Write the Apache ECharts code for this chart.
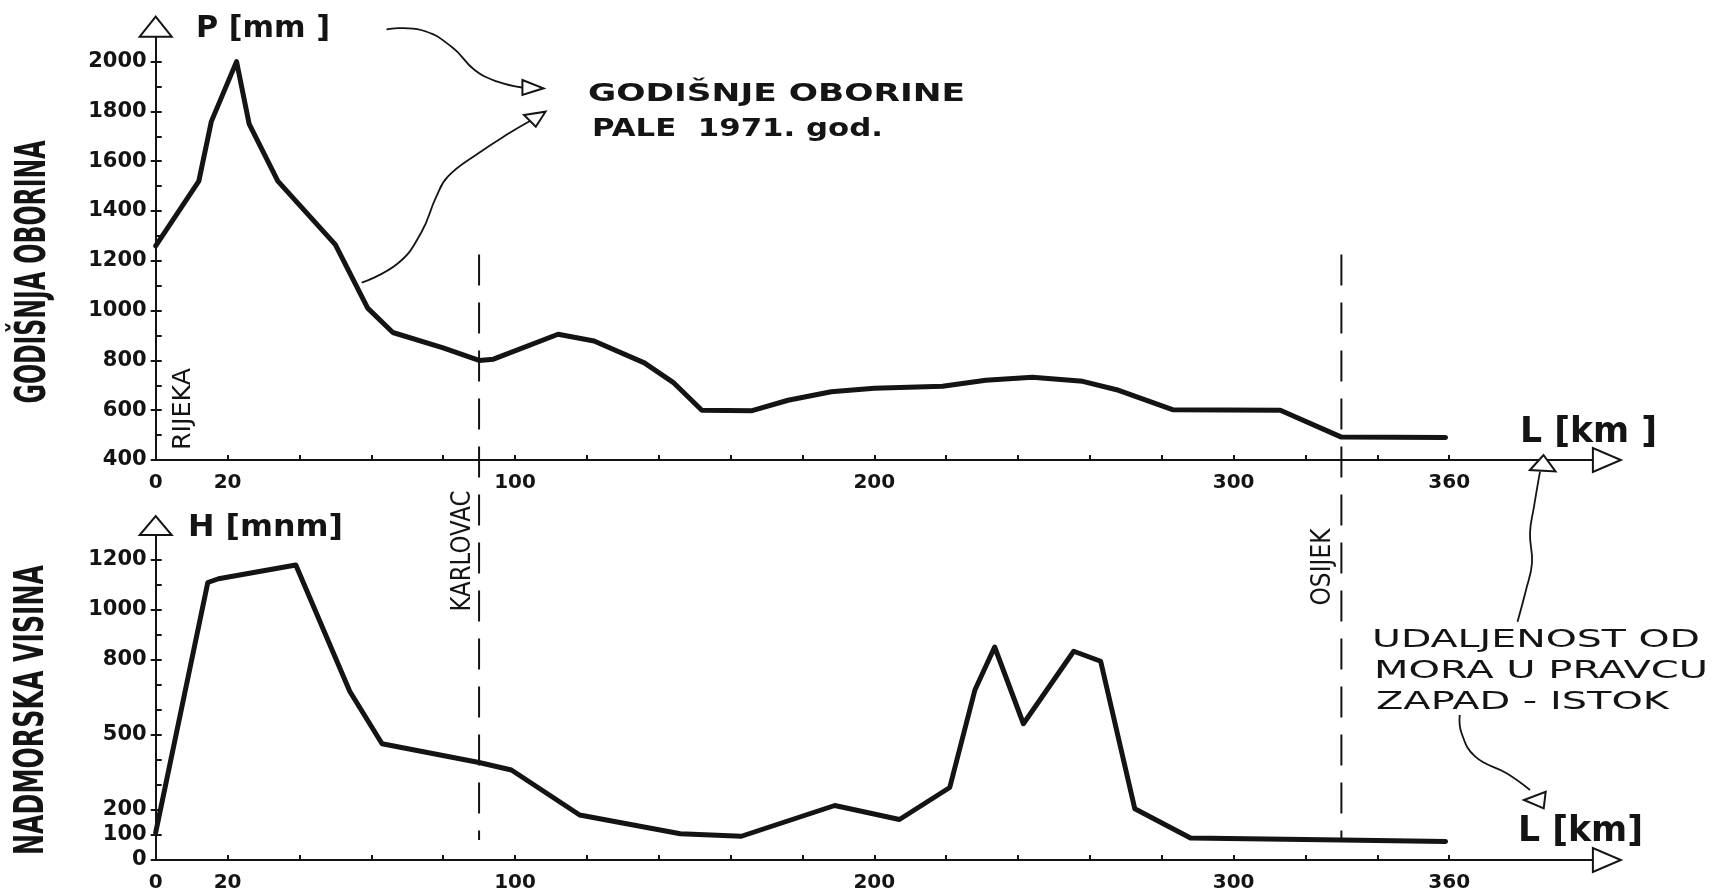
<!DOCTYPE html>
<html>
<head>
<meta charset="utf-8">
<title>Godišnje oborine i nadmorska visina</title>
<script src="https://cdn.jsdelivr.net/npm/echarts@6/dist/echarts.min.js"></script>
<style>
  html, body { margin: 0; padding: 0; background: #ffffff; }
  #chart { width: 1713px; height: 892px; }
</style>
</head>
<body>
<div id="chart"></div>
<script>
// Annual precipitation in 1971 along the west-east line from the sea
const precipKm = [0, 12, 15.5, 22.5, 26, 34, 50, 59, 66, 80, 90, 94, 112, 122, 136, 144, 152, 166, 176, 188, 200, 219, 231, 244, 258, 268, 283, 313, 330, 359];
const precipMm = [1260, 1520, 1760, 2000, 1750, 1520, 1265, 1010, 912, 850, 800, 805, 905, 878, 790, 712, 600, 598, 640, 674, 688, 696, 720, 732, 716, 680, 602, 600, 492, 490];

// Terrain profile (elevation above sea level) along the same line
const reliefKm = [0, 14.5, 17.5, 39, 54, 63, 90, 99, 118, 146, 163, 189, 207, 221, 228, 233.5, 241.5, 255.5, 263, 272.5, 288, 330, 359];
const reliefM = [110, 1110, 1125, 1180, 675, 465, 390, 360, 180, 105, 95, 218, 162, 290, 680, 852, 545, 835, 795, 205, 88, 80, 74];

// Axis ticks and labels
const kmTicks = [0, 20, 40, 60, 80, 100, 120, 140, 160, 180, 200, 220, 240, 260, 280, 300, 320, 340, 360];
const kmLabels = [0, 20, 100, 200, 300, 360];
const precipTicks = [400, 500, 600, 700, 800, 900, 1000, 1100, 1200, 1300, 1400, 1500, 1600, 1700, 1800, 1900, 2000];
const precipLabels = [400, 600, 800, 1000, 1200, 1400, 1600, 1800, 2000];
const reliefTicks = [0, 100, 200, 300, 400, 500, 600, 700, 800, 900, 1000, 1100, 1200];
const reliefLabels = [0, 100, 200, 500, 800, 1000, 1200];

// Towns marked by vertical dashed lines (km from the sea)
const townNames = ['KARLOVAC', 'OSIJEK'];
const townKm = [90, 330];

const INK = '#141414';
const FONT = '"DejaVu Sans", "Liberation Sans", sans-serif';

const chart = echarts.init(document.getElementById('chart'), null, { renderer: 'canvas' });

function plain(v) { return String(v); }

function kmAxis(gridIndex) {
  return {
    type: 'value', gridIndex: gridIndex, min: 0, max: 400,
    axisLine: { show: true, onZero: false, lineStyle: { color: INK, width: 2 } },
    axisTick: { show: true, inside: true, length: 5, customValues: kmTicks, lineStyle: { color: INK, width: 2 } },
    axisLabel: { show: true, customValues: kmLabels, formatter: plain, color: INK, fontFamily: FONT, fontWeight: 'bold', fontSize: 20, margin: 13 },
    splitLine: { show: false }
  };
}

function valueAxis(gridIndex, min, max, ticks, labels) {
  return {
    type: 'value', gridIndex: gridIndex, min: min, max: max, position: 'left',
    axisLine: { show: true, onZero: false, lineStyle: { color: INK, width: 2 } },
    axisTick: { show: true, inside: true, length: 6, customValues: ticks, lineStyle: { color: INK, width: 2 } },
    axisLabel: { show: true, customValues: labels, formatter: plain, color: INK, fontFamily: FONT, fontWeight: 'bold', fontSize: 21, margin: 9 },
    splitLine: { show: false }
  };
}

// short outer marks next to the labelled values
function labelMarkAxis(gridIndex, min, max, labels) {
  return {
    type: 'value', gridIndex: gridIndex, min: min, max: max, position: 'left',
    axisLine: { show: false, onZero: false },
    axisTick: { show: true, inside: false, length: 5, customValues: labels, lineStyle: { color: INK, width: 2 } },
    axisLabel: { show: false },
    splitLine: { show: false }
  };
}

function pairs(xs, ys) { return xs.map(function (x, i) { return [x, ys[i]]; }); }

chart.setOption({
  animation: false,
  backgroundColor: '#ffffff',
  grid: [
    { left: 155.7, top: 36.7, width: 1437.2, height: 423.3, outerBoundsMode: 'none' },
    { left: 155.7, top: 535, width: 1437.2, height: 325, outerBoundsMode: 'none' }
  ],
  xAxis: [kmAxis(0), kmAxis(1)],
  yAxis: [
    valueAxis(0, 400, 2100, precipTicks, precipLabels),
    valueAxis(1, 0, 1300, reliefTicks, reliefLabels),
    labelMarkAxis(0, 400, 2100, precipLabels),
    labelMarkAxis(1, 0, 1300, reliefLabels)
  ],
  series: [
    {
      name: 'P', type: 'line', xAxisIndex: 0, yAxisIndex: 0, data: pairs(precipKm, precipMm),
      symbol: 'none', silent: true, z: 5,
      lineStyle: { color: INK, width: 5, join: 'round', cap: 'round' }
    },
    {
      name: 'H', type: 'line', xAxisIndex: 1, yAxisIndex: 1, data: pairs(reliefKm, reliefM),
      symbol: 'none', silent: true, z: 5,
      lineStyle: { color: INK, width: 5, join: 'round', cap: 'round' }
    }
  ]
});

// ---- decorations: hollow axis arrows, town lines, lettering, pointer arrows ----
const measureCtx = document.createElement('canvas').getContext('2d');
function fitScale(text, size, weight, target) {
  measureCtx.font = weight + ' ' + size + 'px ' + FONT;
  return target / measureCtx.measureText(text).width;
}

function label(text, x, y, size, target, opts) {
  opts = opts || {};
  const weight = opts.weight || 'normal';
  return {
    type: 'text', x: x, y: y, z: 20, silent: true,
    rotation: opts.rotation || 0,
    scaleX: fitScale(text, size, weight, target), scaleY: 1,
    style: {
      text: text, x: 0, y: 0, fill: INK, fontFamily: FONT, fontSize: size, fontWeight: weight,
      align: opts.align || 'left', verticalAlign: 'middle'
    }
  };
}

function hollowTriangle(points) {
  return {
    type: 'polygon', z: 20, silent: true,
    shape: { points: points },
    style: { fill: '#ffffff', stroke: INK, lineWidth: 2, lineJoin: 'miter' }
  };
}

function curve(points) {
  return {
    type: 'polyline', z: 20, silent: true,
    shape: { points: points, smooth: 0.45 },
    style: { fill: null, stroke: INK, lineWidth: 1.8 }
  };
}

const pTop = chart.convertToPixel({ xAxisIndex: 0, yAxisIndex: 0 }, [0, 2100]);
const pTopEnd = chart.convertToPixel({ xAxisIndex: 0, yAxisIndex: 0 }, [400, 400]);
const hTop = chart.convertToPixel({ xAxisIndex: 1, yAxisIndex: 1 }, [0, 1300]);
const hEnd = chart.convertToPixel({ xAxisIndex: 1, yAxisIndex: 1 }, [400, 0]);

const elements = [
  // axis arrow heads
  hollowTriangle([[pTop[0] - 16, pTop[1]], [pTop[0] + 16, pTop[1]], [pTop[0], pTop[1] - 20]]),
  hollowTriangle([[hTop[0] - 16, hTop[1]], [hTop[0] + 16, hTop[1]], [hTop[0], hTop[1] - 19]]),
  hollowTriangle([[pTopEnd[0], pTopEnd[1] - 12], [pTopEnd[0], pTopEnd[1] + 12], [pTopEnd[0] + 28, pTopEnd[1]]]),
  hollowTriangle([[hEnd[0], hEnd[1] - 12], [hEnd[0], hEnd[1] + 12], [hEnd[0] + 28, hEnd[1]]])
];

// dashed town lines running through both panels
townKm.forEach(function (km) {
  const a = chart.convertToPixel({ xAxisIndex: 0, yAxisIndex: 0 }, [km, 1225]);
  const b = chart.convertToPixel({ xAxisIndex: 1, yAxisIndex: 1 }, [km, 80]);
  elements.push({
    type: 'line', z: 4, silent: true,
    shape: { x1: a[0], y1: a[1], x2: b[0], y2: b[1] },
    style: { stroke: INK, lineWidth: 2, lineDash: [31, 17] }
  });
});

const karlovacX = chart.convertToPixel({ xAxisIndex: 1, yAxisIndex: 1 }, [townKm[0], 0])[0];
const osijekX = chart.convertToPixel({ xAxisIndex: 1, yAxisIndex: 1 }, [townKm[1], 0])[0];
const zeroX = chart.convertToPixel({ xAxisIndex: 0, yAxisIndex: 0 }, [0, 400])[0];
const VERT = { rotation: Math.PI / 2, align: 'center' };

elements.push(
  // axis titles
  label('GODIŠNJA OBORINA', 34, 272, 42, 263, { rotation: Math.PI / 2, align: 'center', weight: 'bold' }),
  label('NADMORSKA VISINA', 33, 710, 40, 290, { rotation: Math.PI / 2, align: 'center', weight: 'bold' }),
  label('P [mm ]', 196, 29, 31, 134, { weight: 'bold' }),
  label('H [mnm]', 188, 528, 31, 155, { weight: 'bold' }),
  label('L [km ]', 1520, 433, 36, 137, { weight: 'bold' }),
  label('L [km]', 1518, 832, 36, 125, { weight: 'bold' }),
  // place names
  label('RIJEKA', zeroX + 28, 409, 25, 82, VERT),
  label(townNames[0], karlovacX - 16, 551, 26, 121, VERT),
  label(townNames[1], osijekX - 18, 567, 26, 77, VERT),
  // notes
  label('GODIŠNJE OBORINE', 588, 94, 25, 377, { weight: 'bold' }),
  label('PALE  1971. god.', 592, 129, 25, 291, { weight: 'bold' }),
  label('UDALJENOST OD', 1372, 640, 25, 328),
  label('MORA U PRAVCU', 1374, 671, 25, 334),
  label('ZAPAD - ISTOK', 1376, 702, 25, 293),
  // pointer arrows
  curve([[386.5, 29.3], [421, 30], [451.6, 46.7], [474.6, 70], [497.5, 81.7], [522, 87.5]]),
  hollowTriangle([[522.4, 80], [543.5, 88.3], [522.4, 95]]),
  curve([[361.7, 282.7], [398, 263.3], [421, 233], [436.3, 196.7], [447.8, 176.7], [478.4, 153.3], [509, 133.3], [530, 121]]),
  hollowTriangle([[524, 115], [545.5, 111.7], [535.8, 126.7]]),
  curve([[1517.5, 621.7], [1526, 590], [1532, 563], [1530, 533], [1534, 506.7], [1540, 471.7]]),
  hollowTriangle([[1530, 470], [1543.5, 455], [1555.5, 471.5]]),
  curve([[1459.7, 715], [1461.6, 733.3], [1475.3, 756.7], [1506.6, 773.3], [1530, 790]]),
  hollowTriangle([[1524, 800], [1545.7, 791.7], [1543.7, 808.3]])
);

chart.setOption({ graphic: { elements: elements } });
</script>
</body>
</html>
